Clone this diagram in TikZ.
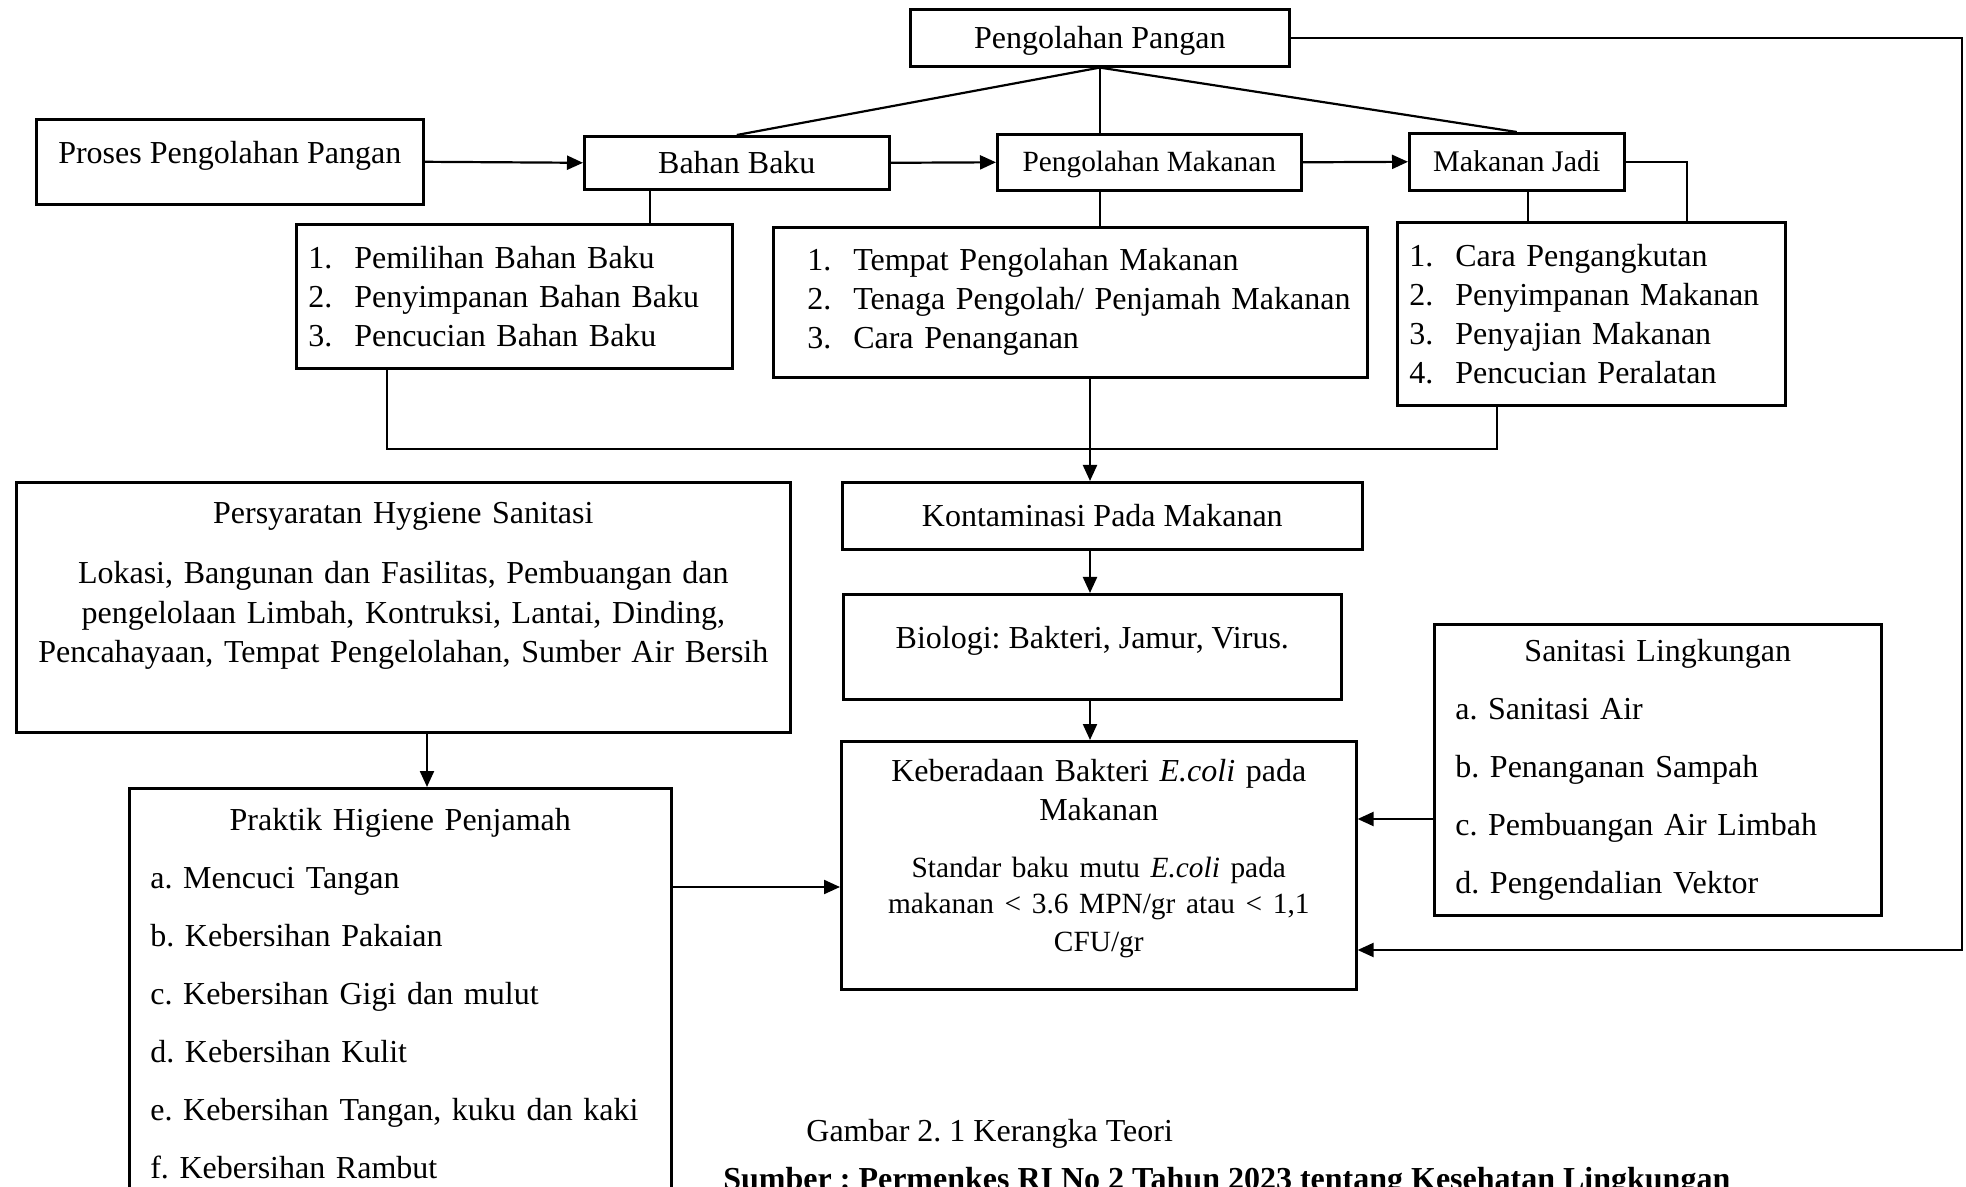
\documentclass[tikz,border=0pt]{standalone}
\usepackage{fontspec}
\setmainfont{Liberation Serif}
\usetikzlibrary{arrows.meta,positioning}

\newlength{\lipad}
\newcommand{\li}[2]{\hspace*{\lipad}\makebox[23pt][l]{#1}#2}

\tikzset{
  box/.style={draw, line width=1.3pt, inner sep=0pt, anchor=north west,
    font=\fontsize{16pt}{19.5pt}\selectfont},
  capmid/.style={text height=10.6pt, text depth=0pt},
  raised/.style={text height=10.6pt, text depth=8.5pt},
  listbox/.style={align=left, execute at begin node={\setlength{\lipad}{#1}}},
  link/.style={line width=1.1pt},
  arr/.style={link, -{Triangle[length=8pt,width=7pt]}},
}

\begin{document}
\frenchspacing
\begin{tikzpicture}[x=0.5pt, y=-0.5pt]
  \path[use as bounding box] (0,0) rectangle (1966,1187);
  \clip (0,0) rectangle (1966,1187);

  % top row
  \node[box, capmid, minimum width=189.5pt, minimum height=28.5pt] (pp) at (909,8) {Pengolahan Pangan};
  \node[box, raised, minimum width=193.5pt, minimum height=42.5pt] (proses) at (35,118) {Proses Pengolahan Pangan};
  \node[box, capmid, minimum width=152.5pt, minimum height=26.5pt] (bahan) at (583,135) {Bahan Baku};
  \node[box, font=\fontsize{14.67pt}{18pt}\selectfont, text height=9.7pt, text depth=0pt,
    minimum width=152pt, minimum height=28pt] (olah) at (996,133) {Pengolahan Makanan};
  \node[box, font=\fontsize{15pt}{18pt}\selectfont, text height=9.9pt, text depth=0pt,
    minimum width=107.5pt, minimum height=28.5pt] (jadi) at (1408,132) {Makanan Jadi};

  % lists
  \node[box, listbox=6pt, text width=218pt, minimum height=72pt] (bahanlist) at (295,223)
    {\li{1.}{Pemilihan Bahan Baku}\\ \li{2.}{Penyimpanan Bahan Baku}\\ \li{3.}{Pencucian Bahan Baku}};
  \node[box, listbox=17pt, text width=297pt, minimum height=75pt] (olahlist) at (772,226)
    {\li{1.}{Tempat Pengolahan Makanan}\\ \li{2.}{Tenaga Pengolah/ Penjamah Makanan}\\ \li{3.}{Cara Penanganan}};
  \node[box, listbox=6pt, text width=194pt, minimum height=91.5pt] (jadilist) at (1396,221)
    {\li{1.}{Cara Pengangkutan}\\ \li{2.}{Penyimpanan Makanan}\\ \li{3.}{Penyajian Makanan}\\ \li{4.}{Pencucian Peralatan}};

  % middle column
  \node[box, capmid, minimum width=260pt, minimum height=33.5pt] (kontam) at (841,481) {Kontaminasi Pada Makanan};
  \node[box, raised, minimum width=249pt, minimum height=52.5pt] (biologi) at (842,593) {Biologi: Bakteri, Jamur, Virus.};
  \node[box, align=center, text width=257.5pt, minimum height=124pt] (ecoli) at (840,740)
    {Keberadaan Bakteri \textit{E.coli} pada\\ Makanan\\[10pt]
     {\fontsize{14.67pt}{18.8pt}\selectfont Standar baku mutu \textit{E.coli} pada\\[-0.7pt]
      makanan < 3.6 MPN/gr atau < 1,1\\[-0.7pt] CFU/gr}\\[-9.3pt]\mbox{}};

  % side boxes
  \node[box, align=center, text width=387pt, minimum height=125pt,
    font=\fontsize{16pt}{19.75pt}\selectfont] (syarat) at (15,481)
    {Persyaratan Hygiene Sanitasi\\[10.5pt]
     Lokasi, Bangunan dan Fasilitas, Pembuangan dan\\
     pengelolaan Limbah, Kontruksi, Lantai, Dinding,\\
     Pencahayaan, Tempat Pengelolahan, Sumber Air Bersih\\[5.25pt]\mbox{}};
  \node[box, align=left, inner xsep=10.5pt, text width=250pt, minimum height=205.5pt,
    font=\fontsize{16pt}{29pt}\selectfont] (praktik) at (128,787)
    {\makebox[\hsize]{Praktik Higiene Penjamah}\\ a. Mencuci Tangan\\ b. Kebersihan Pakaian\\
     c. Kebersihan Gigi dan mulut\\ d. Kebersihan Kulit\\ e. Kebersihan Tangan, kuku dan kaki\\
     f. Kebersihan Rambut};
  \node[box, align=left, inner xsep=10.5pt, text width=202.5pt, minimum height=145.5pt,
    font=\fontsize{16pt}{29pt}\selectfont] (sanitasi) at (1433,623)
    {\makebox[\hsize]{Sanitasi Lingkungan}\\ a. Sanitasi Air\\ b. Penanganan Sampah\\
     c. Pembuangan Air Limbah\\ d. Pengendalian Vektor};

  % caption
  \node[anchor=base west, inner sep=0pt, font=\fontsize{16pt}{19.5pt}\selectfont] (caption) at (806,1141.5)
    {Gambar 2. 1 Kerangka Teori};
  \node[anchor=base west, inner sep=0pt, font=\fontsize{16pt}{19.5pt}\selectfont\bfseries] (source) at (723,1189)
    {Sumber : Permenkes RI No 2 Tahun 2023 tentang Kesehatan Lingkungan};

  % helper x / y positions of the connectors
  \coordinate (bx) at (650,0);
  \coordinate (jx) at (1528,0);
  \coordinate (jr) at (1687,0);
  \coordinate (lx) at (387,0);
  \coordinate (rx) at (1497,0);
  \coordinate (mx) at (1090,0);
  \coordinate (sx) at (427,0);
  \coordinate (fx) at (1962,0);
  \coordinate (cy) at (0,449);
  \coordinate (py) at (0,887);
  \coordinate (sy) at (0,819);
  \coordinate (fy) at (0,950);

  % connectors
  \draw[link] (pp.south) -- (bahan.north);
  \draw[link] (pp.south) -- (pp.south |- olah.north);
  \draw[link] (pp.south) -- (jadi.north);
  \draw[arr] (proses.east) -- (bahan.west);
  \draw[arr] (bahan.east) -- (olah.west);
  \draw[arr] (olah.east) -- (jadi.west);
  \draw[link] (bahan.south -| bx) -- (bahanlist.north -| bx);
  \draw[link] (olah.south -| pp.south) -- (olahlist.north -| pp.south);
  \draw[link] (jadi.south -| jx) -- (jadilist.north -| jx);
  \draw[link] (jadi.east) -| (jadilist.north -| jr);
  \draw[link] (bahanlist.south -| lx) -- (lx |- cy) -- (rx |- cy) -- (jadilist.south -| rx);
  \draw[arr] (olahlist.south -| mx) -- (kontam.north -| mx);
  \draw[arr] (kontam.south -| mx) -- (biologi.north -| mx);
  \draw[arr] (biologi.south -| mx) -- (ecoli.north -| mx);
  \draw[arr] (syarat.south -| sx) -- (praktik.north -| sx);
  \draw[arr] (praktik.east |- py) -- (ecoli.west |- py);
  \draw[arr] (sanitasi.west |- sy) -- (ecoli.east |- sy);
  \draw[arr] (pp.east) -| (fx |- fy) -- (ecoli.east |- fy);
\end{tikzpicture}
\end{document}
